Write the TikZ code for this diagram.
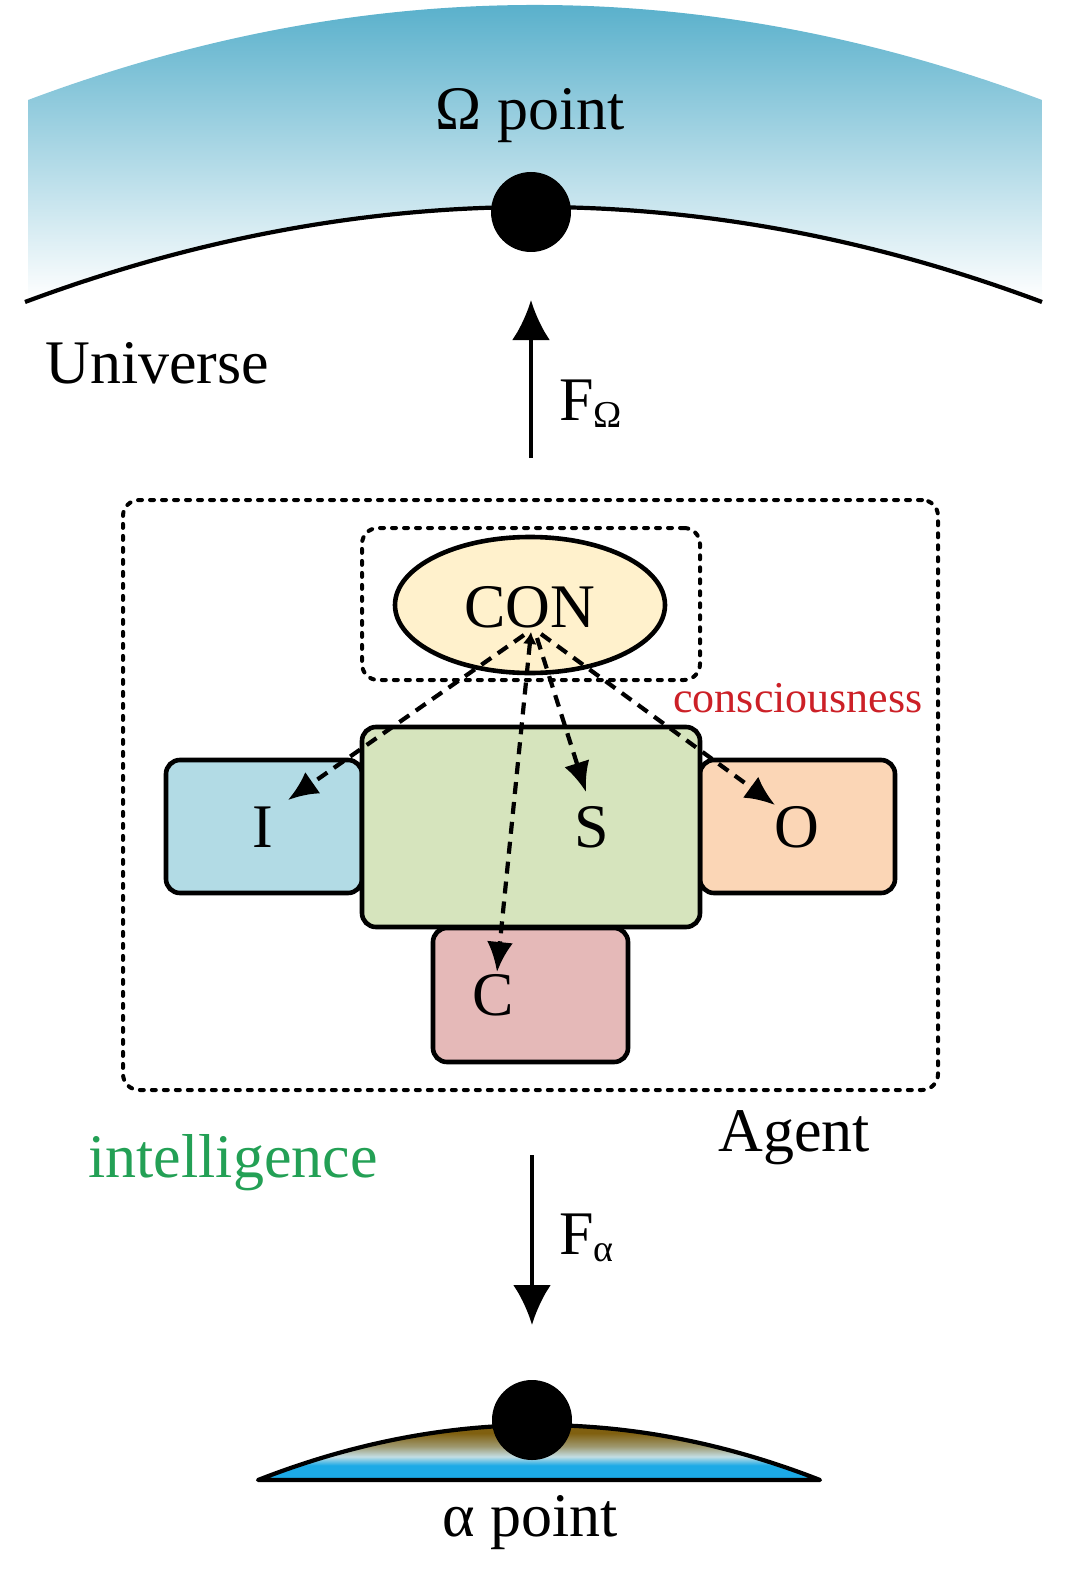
\documentclass[tikz,border=0pt]{standalone}
\usepackage{fontspec}
\setmainfont{Liberation Serif}
\usetikzlibrary{arrows.meta,shapes.geometric}
\definecolor{skytop}{RGB}{72,168,198}
\definecolor{conf}{RGB}{255,241,204}
\definecolor{sgreen}{RGB}{214,228,189}
\definecolor{iblue}{RGB}{178,219,229}
\definecolor{opeach}{RGB}{251,214,182}
\definecolor{cpink}{RGB}{229,185,184}
\definecolor{conred}{RGB}{204,32,39}
\definecolor{intgreen}{RGB}{35,160,85}
\definecolor{earth}{RGB}{128,96,16}
\definecolor{water}{RGB}{28,170,230}
\definecolor{band}{RGB}{195,222,228}
\pgfdeclareverticalshading{alphashade}{100bp}{color(0bp)=(water); color(25bp)=(water); color(35bp)=(water); color(41bp)=(band); color(48bp)=(earth!55!band); color(57bp)=(earth); color(100bp)=(earth)}
\tikzset{
  big/.style={font=\fontsize{31}{36}\selectfont, inner sep=0pt},
  boxstyle/.style={draw, line width=2.3pt, rounded corners=7pt, inner sep=0pt},
  dashbox/.style={draw, line width=2pt, line cap=round, dash pattern=on 2pt off 4pt, rounded corners=8pt, inner sep=0pt},
  dasharrow/.style={line width=2.1pt, dash pattern=on 6pt off 4pt, -{Latex[length=15pt,width=13pt]}},
  force/.style={line width=2.2pt, -{Latex[length=20pt,width=19pt]}},
  dot/.style={circle, fill=black, minimum size=40pt, inner sep=0pt}
}
\begin{document}
\begin{tikzpicture}[x=0.5pt,y=-0.5pt]
\useasboundingbox (0,0) rectangle (1080,1573);
% sky
\shade[top color=skytop, bottom color=white]
  (28,100) .. controls (366,-26.7) and (704,-26.7) .. (1042,100) -- (1042,300)
  .. controls (704,175.3) and (365,175.3) .. (28,300) -- cycle;
\draw[line width=2.1pt] (25,302) .. controls (365,175.3) and (704,175.3) .. (1042,302);
\node[dot] (omega) at (531,212) {};
\node[big, anchor=base] (omegalabel) at (530,130) {Ω point};
\node[big, anchor=base west] (universe) at (45,383) {Universe};
% force up
\coordinate (fupstart) at (531,458);
\coordinate (fupend) at (531,300);
\draw[force] (fupstart) -- (fupend);
\node[big, anchor=base west] (fomega) at (559,420) {F\raisebox{-0.25ex}{\fontsize{19}{22}\selectfont Ω}};
% agent
\node[dashbox, minimum width=407.5pt, minimum height=295pt] (agent) at (530.5,795) {};
\node[dashbox, minimum width=169pt, minimum height=76pt] (conframe) at (531,604) {};
\node[ellipse, draw, line width=2.3pt, fill=conf, minimum width=135pt, minimum height=68pt, inner sep=0pt] (con) at (530,605) {};
\node[big, anchor=base] (context) at (530,627) {CON};
\node[font=\fontsize{22}{26}\selectfont, text=conred, anchor=base west, inner sep=0pt] (consc) at (673,712) {consciousness};
% boxes
\node[boxstyle, fill=iblue, minimum width=98pt, minimum height=66.5pt] (ibox) at (264,826.5) {};
\node[boxstyle, fill=opeach, minimum width=97.5pt, minimum height=66.5pt] (obox) at (797.5,826.5) {};
\node[boxstyle, fill=cpink, minimum width=97.5pt, minimum height=67pt] (cbox) at (530.5,995) {};
\node[boxstyle, fill=sgreen, minimum width=169pt, minimum height=100pt] (sbox) at (531,827) {};
\node[big, anchor=base] (itext) at (263,847) {I};
\node[big, anchor=base] (stext) at (592,847) {S};
\node[big, anchor=base] (otext) at (797,847) {O};
\node[big, anchor=base] (ctext) at (493,1015) {C};
% dashed arrows
\coordinate (hub) at (531,632);
\coordinate (hubs) at (537,638);
\coordinate (hubo) at (541,634);
\coordinate (hubi) at (524,635);
\coordinate (tipI) at (288,800);
\coordinate (tipS) at (586,792);
\coordinate (tipO) at (775,805);
\coordinate (tipC) at (497,972);
\draw[dasharrow] (hubi) -- (tipI);
\draw[dasharrow] (hubs) -- (tipS);
\draw[dasharrow] (hubo) -- (tipO);
\draw[dasharrow, {Latex[length=6pt,width=7pt]}-{Latex[length=15pt,width=13pt]}] (hub) -- (tipC);
% labels
\node[big, text=intgreen, anchor=base west] (intel) at (88,1177) {intelligence};
\node[big, anchor=base west] (agentlabel) at (718,1151) {Agent};
% force down
\coordinate (fdstart) at (532,1155);
\coordinate (fdend) at (532,1325);
\draw[force] (fdstart) -- (fdend);
\node[big, anchor=base west] (falpha) at (559,1254) {F\raisebox{-0.25ex}{\fontsize{19}{22}\selectfont α}};
% alpha
\shade[shading=alphashade]
  (258,1480) .. controls (445.3,1406.7) and (632.7,1406.7) .. (820,1480) -- cycle;
\draw[line width=2.1pt, line join=round] (258,1480) .. controls (445.3,1406.7) and (632.7,1406.7) .. (820,1480) -- cycle;
\node[dot] (alpha) at (532,1420) {};
\node[big, anchor=base] (alphalabel) at (530,1536) {α point};
\end{tikzpicture}
\end{document}
